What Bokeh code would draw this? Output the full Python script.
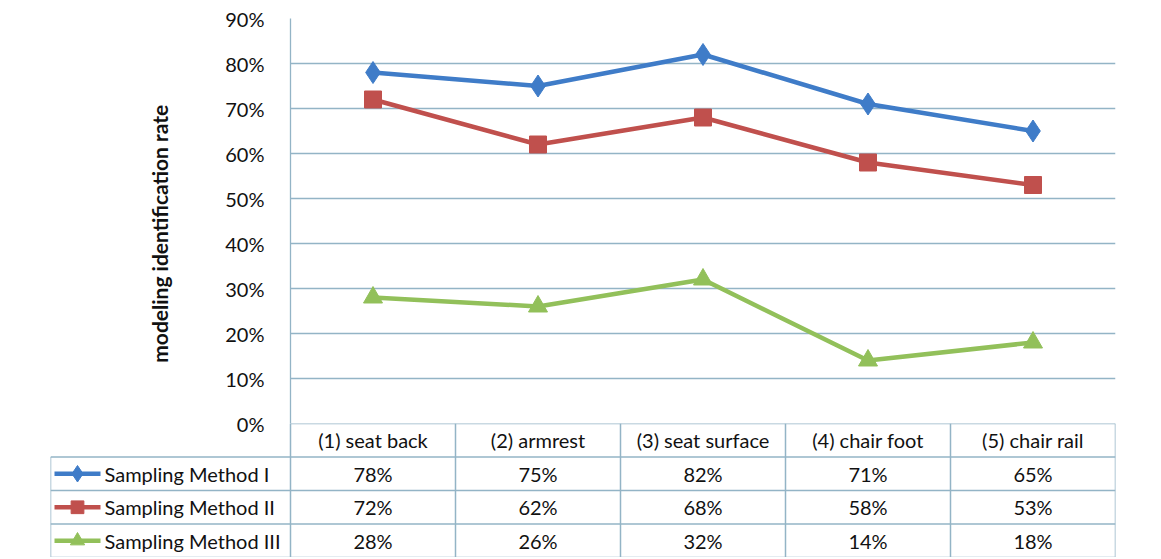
from bokeh.plotting import figure
from bokeh.models import Range1d, FixedTicker, ColumnDataSource, CustomJSTickFormatter
from bokeh.embed import file_html
from bokeh.resources import INLINE
from bokeh.core.properties import value

# ---- data ----
categories = ["(1) seat back", "(2) armrest", "(3) seat surface", "(4) chair foot", "(5) chair rail"]
series_names = ["Sampling Method I", "Sampling Method II", "Sampling Method III"]
method_1 = [78, 75, 82, 71, 65]
method_2 = [72, 62, 68, 58, 53]
method_3 = [28, 26, 32, 14, 18]
y_ticks = [0, 10, 20, 30, 40, 50, 60, 70, 80, 90]

colors = ["#3F7CC8", "#C0504D", "#92C05A"]
markers = ["diamond", "square", "triangle"]
marker_sizes = [22, 17, 19]
series = [method_1, method_2, method_3]

FONT = "Lato"
GRID = "#93B4C6"
TEXT = "#111111"
xs = [i + 0.5 for i in range(len(categories))]
n = len(categories)

W = 1153
OVER = 14

# ---- chart ----
p = figure(width=W, height=423 + OVER, x_range=Range1d(0, n), y_range=Range1d(0, 90),
           output_backend="svg", toolbar_location=None,
           min_border_left=290, min_border_right=W - 290 - 825, min_border_top=18,
           min_border_bottom=OVER)
p.outline_line_color = None
p.xaxis.visible = False
p.xgrid.visible = False
p.ygrid.ticker = FixedTicker(ticks=y_ticks)
p.ygrid.grid_line_color = GRID
p.ygrid.grid_line_width = 1.3
p.yaxis.ticker = FixedTicker(ticks=y_ticks)
p.yaxis.formatter = CustomJSTickFormatter(code="return tick.toFixed(0) + '%';")
p.yaxis.axis_line_color = GRID
p.yaxis.axis_line_width = 1.3
p.yaxis.major_tick_line_color = None
p.yaxis.minor_tick_line_color = None
p.yaxis.major_label_standoff = 20
p.yaxis.major_label_text_font = FONT
p.yaxis.major_label_text_font_size = "20px"
p.yaxis.major_label_text_color = TEXT
p.yaxis.axis_label = "modeling identification rate" + "\u00a0" * 5
p.yaxis.axis_label_text_font = FONT
p.yaxis.axis_label_text_font_size = "21px"
p.yaxis.axis_label_text_font_style = "bold"
p.yaxis.axis_label_text_color = TEXT
p.yaxis.axis_label_standoff = 50

for vals, c, m, s, name in zip(series, colors, markers, marker_sizes, series_names):
    src = ColumnDataSource(dict(x=xs, y=vals))
    p.line("x", "y", source=src, line_color=c, line_width=4.5)
    p.scatter("x", "y", source=src, marker=m, size=s, fill_color=c, line_color=c)

# ---- data table ----
row_h = 33.5
tbl_h = 134
left = -240 / 165.0
t = figure(width=W, height=tbl_h, x_range=Range1d(left, n), y_range=Range1d(-tbl_h / row_h, 0),
           output_backend="svg", toolbar_location=None,
           min_border_left=50, min_border_right=W - 50 - 1065, min_border_top=0, min_border_bottom=0,
           styles={"margin-top": f"-{OVER}px"})
t.outline_line_color = None
t.background_fill_color = None
t.border_fill_color = None
t.axis.visible = False
t.grid.visible = False

# borders
t.segment(x0=[0], y0=[0], x1=[n], y1=[0], line_color=GRID, line_width=1.5)
for r in range(1, 5):
    t.segment(x0=[left], y0=[-r], x1=[n], y1=[-r], line_color=GRID, line_width=1.5)
t.segment(x0=[left], y0=[-1], x1=[left], y1=[-5], line_color=GRID, line_width=1.5)
for i in range(n + 1):
    t.segment(x0=[i], y0=[0], x1=[i], y1=[-5], line_color=GRID, line_width=1.5)

# header
t.text(x=xs, y=[-0.5] * n, text=categories, text_align="center", text_baseline="middle",
       text_font=value(FONT), text_font_size="20px", text_color=TEXT)

lx0 = (54 - 290) / 165.0
lx1 = (100 - 290) / 165.0
tx = (104 - 290) / 165.0
for r, (vals, c, m, s, name) in enumerate(zip(series, colors, markers, marker_sizes, series_names)):
    yc = -(r + 1.5)
    t.segment(x0=[lx0], y0=[yc], x1=[lx1], y1=[yc], line_color=c, line_width=4.5)
    t.scatter(x=[(lx0 + lx1) / 2], y=[yc], marker=m, size=s * 0.75, fill_color=c, line_color=c)
    t.text(x=[tx], y=[yc], text=[name], text_align="left", text_baseline="middle",
           text_font=value(FONT), text_font_size="20px", text_color=TEXT)
    t.text(x=xs, y=[yc] * n, text=[f"{v}%" for v in vals], text_align="center",
           text_baseline="middle", text_font=value(FONT), text_font_size="20px", text_color=TEXT)

open("out.html", "w").write(file_html([p, t], INLINE))
